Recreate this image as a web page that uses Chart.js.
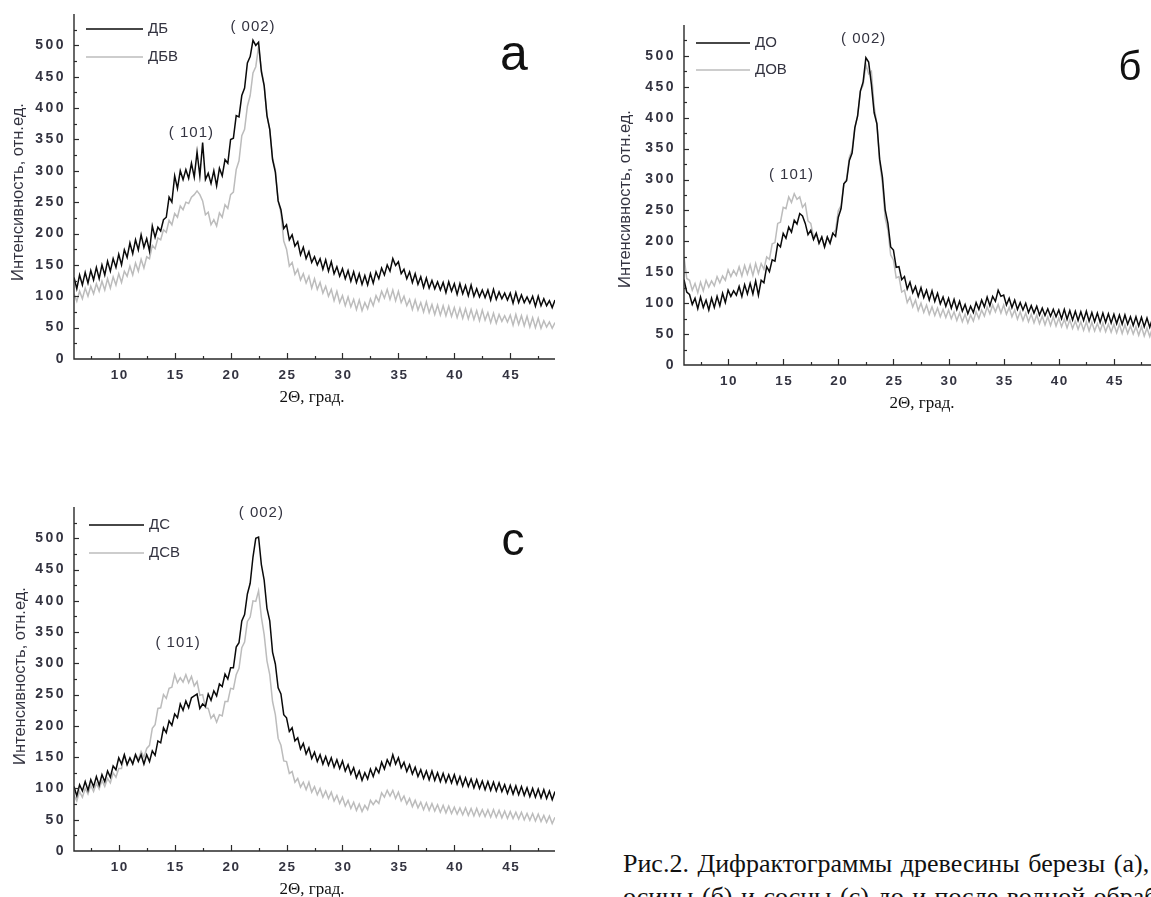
<!DOCTYPE html>
<html>
<head>
<meta charset="utf-8">
<script src="https://cdn.jsdelivr.net/npm/chart.js@4.4.1/dist/chart.umd.min.js"></script>
<style>
html,body{margin:0;padding:0;background:#fff;width:1151px;height:897px;overflow:hidden;position:relative;}
canvas{position:absolute;}
#cap{position:absolute;left:623px;top:847px;font-family:'Liberation Serif','Times New Roman',serif;font-size:26px;line-height:33px;word-spacing:2px;color:#111;white-space:nowrap;}
</style>
</head>
<body>
<canvas id="ca" width="600" height="420" style="left:0;top:0"></canvas>
<canvas id="cb" width="600" height="420" style="left:590px;top:0"></canvas>
<canvas id="cc" width="600" height="407" style="left:0;top:490px"></canvas>
<div id="cap">Рис.2. Дифрактограммы древесины березы (а),<br>осины (б) и сосны (с) до и после водной обработки</div>
<script>
// 2Θ sampling grid (degrees)
const thetaStart = 6, thetaStep = 0.25, thetaCount = 173;
const theta = Array.from({length: thetaCount}, (_, i) => thetaStart + i * thetaStep);

const yTicks = [0, 50, 100, 150, 200, 250, 300, 350, 400, 450, 500];
const xTicks = [10, 15, 20, 25, 30, 35, 40, 45];

// Panel а — birch
const DB = [
130,112,134,118, 138,121,141,126, 146,128,150,134, 156,140,160,146, 167,150,174,162,
185,168,190,174, 198,178,192,172, 212,194,210,204, 222,226,258,250, 292,272,300,286,
302,288,312,290, 330,292,345,286, 296,280,300,276, 304,292,318,312, 350,352,388,386,
420,432,472,482, 508,500,505,458, 436,388,366,318, 298,252,238,208, 214,190,198,180,
187,166,178,160, 171,154,163,150, 160,143,158,140, 155,136,147,132, 144,128,141,124,
139,122,136,119, 133,118,136,121, 139,128,145,134, 150,140,160,149, 155,136,143,128,
139,122,136,119, 131,114,129,113, 125,112,123,110, 122,106,123,108, 120,103,120,104,
117,101,118,100, 112,99,110,98, 110,94,111,95, 107,96,105,94, 105,89,106,90,
102,90,99,89, 100,84,100,85, 96,85,93,82, 94];
const DBV = [
104,92,108,96, 113,100,116,104, 120,108,124,110, 128,113,131,118, 136,122,140,132,
148,134,153,140, 159,145,163,160, 181,176,193,190, 206,202,221,214, 232,226,244,238,
250,248,258,262, 268,262,252,230, 234,214,222,212, 233,226,246,240, 262,266,302,316,
356,366,403,420, 456,466,498,462, 436,388,366,320, 302,252,233,188, 175,148,154,135,
143,126,136,121, 132,113,128,111, 122,105,116,100, 111,93,108,90, 101,85,99,83,
95,79,94,77, 90,80,96,85, 101,92,108,97, 111,95,110,93, 108,90,100,85,
95,79,94,78, 90,75,91,74, 87,71,86,70, 85,69,84,68, 82,66,81,65,
80,64,79,63, 77,61,78,62, 74,58,73,57, 71,60,69,59, 70,54,71,55,
69,53,68,51, 66,50,65,49, 61,51,59,49, 58];

// Panel б — aspen
const DO = [
138,118,114,98, 108,91,110,93, 105,89,108,93, 111,96,116,101, 121,111,120,113,
127,111,130,115, 132,115,136,113, 137,133,159,151, 170,168,196,191, 213,205,223,215,
234,228,245,241, 229,211,218,203, 213,197,207,191, 207,197,213,208, 239,253,293,298,
331,343,384,403, 443,458,497,490, 454,408,390,333, 304,251,229,191, 186,158,159,138,
143,123,134,117, 127,111,125,109, 121,105,120,103, 116,99,110,95, 108,92,106,90,
103,87,98,83, 95,85,101,90, 105,94,110,96, 111,103,121,111, 113,97,108,93,
105,90,101,89, 100,85,96,84, 95,81,92,80, 91,79,90,78, 89,75,90,74,
88,73,87,72, 86,72,87,71, 85,70,84,69, 84,69,83,68, 82,67,81,66,
81,66,78,64, 78,63,77,62, 76,61,75,60, 72];
const DOV = [
175,140,137,121, 132,117,134,120, 137,126,136,128, 143,133,144,137, 154,143,153,145,
159,144,161,147, 162,145,164,148, 164,155,175,171, 196,198,229,231, 255,253,272,263,
277,268,272,255, 261,233,229,207, 213,197,207,191, 207,197,213,218, 250,258,293,301,
336,348,384,403, 443,453,486,471, 475,418,390,328, 293,238,218,178, 170,141,143,118,
121,101,110,94, 105,88,100,85, 97,82,94,80, 92,78,90,77, 89,75,86,72,
84,70,82,68, 81,71,86,75, 89,79,94,83, 97,86,98,84, 97,82,93,78,
89,74,86,72, 84,70,82,68, 81,67,79,65, 78,64,78,63, 76,62,74,60,
73,59,71,58, 70,56,70,55, 69,55,67,55, 68,54,66,53, 66,52,66,51,
65,51,63,50, 62,48,62,47, 60,46,60,45, 57];

// Panel с — pine
const DS = [
103,88,106,96, 111,97,114,103, 119,105,122,111, 128,118,136,130, 149,139,154,138,
149,139,154,143, 154,139,154,143, 160,153,176,173, 197,189,208,201, 219,213,235,225,
240,229,245,248, 251,228,235,231, 251,241,256,248, 267,263,283,275, 293,293,326,333,
368,378,411,428, 470,500,502,458, 433,388,368,318, 299,261,251,218, 213,191,197,176,
181,163,172,155, 165,148,158,143, 154,139,151,137, 149,134,146,132, 144,128,138,123,
133,117,128,113, 125,115,131,119, 133,125,142,131, 146,137,154,139, 149,133,142,127,
138,123,134,119, 130,116,128,114, 128,113,125,111, 124,110,122,109, 122,107,119,104,
117,103,115,101, 114,100,112,98, 111,97,110,96, 109,95,106,92, 105,91,104,90,
103,89,101,87, 100,86,99,85, 98,84,96,82, 95];
const DSV = [
89,80,95,86, 100,91,105,95, 108,99,113,103, 116,109,125,118, 132,132,153,139,
148,142,155,146, 159,150,164,169, 196,202,228,229, 250,244,260,262, 282,269,277,270,
282,269,279,264, 271,249,250,229, 228,212,218,206, 218,216,239,239, 260,259,282,292,
325,334,367,374, 400,399,416,374, 346,304,282,239, 218,180,169,144, 143,124,127,110,
116,102,110,98, 110,94,103,90, 100,86,96,84, 94,80,89,76, 86,72,81,68,
78,65,75,63, 73,66,81,74, 81,76,93,86, 97,88,97,84, 94,80,88,75,
84,71,81,69, 78,66,77,65, 76,64,74,62, 73,61,72,60, 70,59,69,58,
69,57,68,56, 68,56,66,55, 66,54,66,54, 65,53,64,52, 63,52,62,51,
62,50,60,49, 60,48,59,47, 57,46,56,44, 54];

const SANS = "'Liberation Sans', Arial, sans-serif";
const SERIF = "'Liberation Serif', 'Times New Roman', serif";
const TXT = '#333340';

function decor(cfg) {
  return {
    id: 'decor',
    afterDraw(chart) {
      const {ctx, chartArea: a, scales: {x, y}} = chart;
      ctx.save();
      ctx.strokeStyle = '#2a2a2a';
      ctx.lineWidth = 1.4;
      ctx.beginPath();
      ctx.moveTo(a.left, a.top); ctx.lineTo(a.left, a.bottom); ctx.lineTo(a.right, a.bottom);
      ctx.stroke();
      ctx.lineWidth = 1.2;
      for (let v = 25; v < 550; v += 25) {
        const py = Math.round(y.getPixelForValue(v)) + 0.5;
        const len = v % 50 === 0 ? 5 : 3;
        ctx.beginPath(); ctx.moveTo(a.left, py); ctx.lineTo(a.left + len, py); ctx.stroke();
      }
      for (let v = 7.5; v <= 49; v += 2.5) {
        const px = Math.round(x.getPixelForValue(v)) + 0.5;
        const len = v % 5 === 0 ? 6 : 3;
        ctx.beginPath(); ctx.moveTo(px, a.bottom); ctx.lineTo(px, a.bottom - len); ctx.stroke();
      }
      // tick labels
      ctx.fillStyle = TXT;
      ctx.font = 'bold 14px ' + SANS;
      ctx.letterSpacing = '2.5px';
      ctx.textAlign = 'right'; ctx.textBaseline = 'middle';
      yTicks.forEach(v => ctx.fillText(String(v), a.left - 8, y.getPixelForValue(v)));
      ctx.font = 'bold 13.5px ' + SANS;
      ctx.letterSpacing = '1.5px';
      ctx.textAlign = 'center'; ctx.textBaseline = 'top';
      xTicks.forEach(v => ctx.fillText(String(v), x.getPixelForValue(v) + 1, a.bottom + 10));
      ctx.letterSpacing = '0px';
      // axis titles
      ctx.fillStyle = TXT;
      ctx.font = '16.5px ' + SANS;
      ctx.save();
      ctx.translate(cfg.yTitleX, cfg.yTitleY);
      ctx.rotate(-Math.PI / 2);
      ctx.textAlign = 'center'; ctx.textBaseline = 'middle';
      ctx.fillText('Интенсивность, отн.ед.', 0, 0);
      ctx.restore();
      ctx.fillStyle = '#111';
      ctx.font = '17px ' + SERIF;
      ctx.textAlign = 'center'; ctx.textBaseline = 'middle';
      ctx.fillText('2Θ, град.', cfg.xTitleX, a.bottom + 39);
      // legend
      ctx.font = '15px ' + SANS;
      ctx.textAlign = 'left'; ctx.textBaseline = 'middle';
      cfg.legend.forEach((l, i) => {
        const ly = cfg.legY[i];
        ctx.strokeStyle = l.color; ctx.lineWidth = 1.6;
        ctx.beginPath(); ctx.moveTo(cfg.legX0, ly); ctx.lineTo(cfg.legX1, ly); ctx.stroke();
        ctx.fillStyle = TXT;
        ctx.fillText(l.name, cfg.legX1 + 5, ly);
      });
      // peak labels
      ctx.font = '15px ' + SANS;
      ctx.letterSpacing = '1px';
      ctx.textAlign = 'center'; ctx.textBaseline = 'middle';
      cfg.peaks.forEach(p => ctx.fillText(p.t, x.getPixelForValue(p.x), y.getPixelForValue(p.y)));
      ctx.letterSpacing = '0px';
      // panel letter
      ctx.fillStyle = '#111';
      ctx.font = cfg.letterSize + 'px ' + SANS;
      ctx.textAlign = 'center'; ctx.textBaseline = 'alphabetic';
      ctx.fillText(cfg.letter, cfg.letterX, cfg.letterY);
      ctx.restore();
    }
  };
}

function makeChart(id, series, pad, cfg) {
  const ds = series.map(s => ({
    label: s.name,
    data: theta.map((t, i) => ({x: t, y: s.values[i]})),
    borderColor: s.color,
    borderWidth: 1.5,
    pointRadius: 0,
    tension: 0,
    fill: false
  }));
  new Chart(document.getElementById(id), {
    type: 'line',
    data: {datasets: ds},
    options: {
      responsive: false,
      animation: false,
      events: [],
      layout: {padding: pad},
      plugins: {legend: {display: false}, tooltip: {enabled: false}},
      scales: {
        x: {type: 'linear', min: 6, max: 49, display: false},
        y: {type: 'linear', min: 0, max: 550, display: false}
      }
    },
    plugins: [decor(Object.assign({legend: series}, cfg))]
  });
}

const BLACK = '#0a0a0a', GRAY = '#bcbcbc';

makeChart('ca', [
  {name: 'ДБ', values: DB, color: BLACK},
  {name: 'ДБВ', values: DBV, color: GRAY}
], {left: 74, right: 45, top: 14, bottom: 61}, {
  yTitleX: 18, yTitleY: 192, xTitleX: 312,
  legX0: 86, legX1: 143, legY: [29, 57],
  peaks: [{t: '( 002)', x: 22.0, y: 530}, {t: '( 101)', x: 16.5, y: 360}],
  letter: 'а', letterX: 514, letterY: 70, letterSize: 50
});

makeChart('cb', [
  {name: 'ДО', values: DO, color: BLACK},
  {name: 'ДОВ', values: DOV, color: GRAY}
], {left: 94, right: 32, top: 25, bottom: 55}, {
  yTitleX: 35, yTitleY: 199, xTitleX: 332,
  legX0: 106, legX1: 160, legY: [43, 70],
  peaks: [{t: '( 002)', x: 22.3, y: 527}, {t: '( 101)', x: 15.75, y: 307}],
  letter: 'б', letterX: 540, letterY: 80, letterSize: 40
});

makeChart('cc', [
  {name: 'ДС', values: DS, color: BLACK},
  {name: 'ДСВ', values: DSV, color: GRAY}
], {left: 74, right: 45, top: 17, bottom: 46}, {
  yTitleX: 20, yTitleY: 186, xTitleX: 312,
  legX0: 89, legX1: 144, legY: [35, 63],
  peaks: [{t: '( 002)', x: 22.75, y: 540}, {t: '( 101)', x: 15.3, y: 333}],
  letter: 'с', letterX: 513, letterY: 65, letterSize: 46
});
</script>
</body>
</html>
